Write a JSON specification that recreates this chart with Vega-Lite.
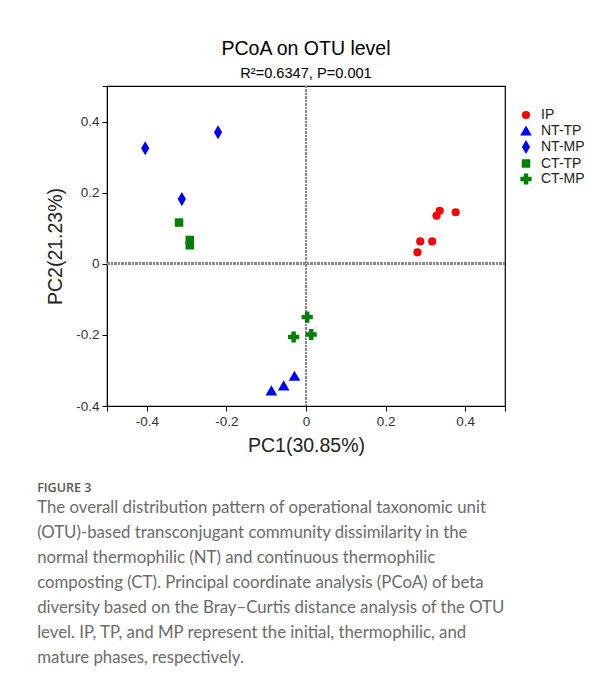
{
  "$schema": "https://vega.github.io/schema/vega-lite/v6.json",
  "padding": {"left": 37, "top": 38, "right": 5, "bottom": 5},
  "background": "white",
  "title": {
    "text": "FIGURE 3",
    "subtitle": [
      "The overall distribution pattern of operational taxonomic unit",
      "(OTU)-based transconjugant community dissimilarity in the",
      "normal thermophilic (NT) and continuous thermophilic",
      "composting (CT). Principal coordinate analysis (PCoA) of beta",
      "diversity based on the Bray–Curtis distance analysis of the OTU",
      "level. IP, TP, and MP represent the initial, thermophilic, and",
      "mature phases, respectively."
    ],
    "orient": "bottom",
    "anchor": "start",
    "frame": "bounds",
    "offset": 26,
    "dx": -8,
    "font": "Open Sans",
    "fontSize": 12.5,
    "fontWeight": 600,
    "color": "#555555",
    "subtitleFont": "Lato",
    "subtitleFontSize": 16.8,
    "subtitleColor": "#6b6b6b",
    "subtitleLineHeight": 25,
    "subtitlePadding": 6
  },
  "vconcat": [
    {
      "width": 398,
      "height": 320,
      "title": {
        "text": "PCoA on OTU level",
        "subtitle": "R²=0.6347, P=0.001",
        "anchor": "middle",
        "font": "Liberation Sans",
        "fontSize": 19.5,
        "fontWeight": "normal",
        "color": "#000000",
        "subtitleFont": "Liberation Sans",
        "subtitleFontSize": 14.6,
        "subtitleColor": "#000000",
        "subtitlePadding": 7,
        "offset": 3
      },
      "data": {
        "values": [
          {"group": "IP", "pc1": 0.336, "pc2": 0.149},
          {"group": "IP", "pc1": 0.328, "pc2": 0.135},
          {"group": "IP", "pc1": 0.376, "pc2": 0.145},
          {"group": "IP", "pc1": 0.287, "pc2": 0.063},
          {"group": "IP", "pc1": 0.317, "pc2": 0.063},
          {"group": "IP", "pc1": 0.280, "pc2": 0.032},
          {"group": "NT-TP", "pc1": -0.087, "pc2": -0.356},
          {"group": "NT-TP", "pc1": -0.056, "pc2": -0.342},
          {"group": "NT-TP", "pc1": -0.029, "pc2": -0.315},
          {"group": "NT-MP", "pc1": -0.404, "pc2": 0.325},
          {"group": "NT-MP", "pc1": -0.221, "pc2": 0.370},
          {"group": "NT-MP", "pc1": -0.312, "pc2": 0.182},
          {"group": "CT-TP", "pc1": -0.319, "pc2": 0.116},
          {"group": "CT-TP", "pc1": -0.292, "pc2": 0.067},
          {"group": "CT-TP", "pc1": -0.292, "pc2": 0.052},
          {"group": "CT-MP", "pc1": 0.003, "pc2": -0.150},
          {"group": "CT-MP", "pc1": 0.013, "pc2": -0.199},
          {"group": "CT-MP", "pc1": -0.031, "pc2": -0.206}
        ]
      },
      "layer": [
        {
          "mark": {"type": "rule", "color": "#888888", "strokeWidth": 2, "strokeDash": [2, 1.5]},
          "encoding": {"x": {"datum": 0, "type": "quantitative"}}
        },
        {
          "mark": {"type": "rule", "color": "#888888", "strokeWidth": 2, "strokeDash": [2, 1.5]},
          "encoding": {"y": {"datum": 0, "type": "quantitative"}}
        },
        {
          "mark": {"type": "point", "filled": true, "opacity": 1},
          "encoding": {
            "x": {
              "field": "pc1",
              "type": "quantitative",
              "scale": {"domain": [-0.5, 0.5], "nice": false, "zero": false},
              "axis": {
                "title": "PC1(30.85%)",
                "values": [-0.5, -0.4, -0.2, 0, 0.2, 0.4, 0.5],
                "labelExpr": "abs(datum.value) > 0.45 ? '' : (datum.value == 0 ? '0' : (datum.value < 0 ? '-' : '') + format(abs(datum.value), '.1f'))",
                "grid": false,
                "domainColor": "#000000",
                "tickColor": "#000000",
                "tickSize": 5,
                "labelPadding": 3,
                "labelFont": "Liberation Sans",
                "labelFontSize": 13.5,
                "labelColor": "#333333",
                "titleFont": "Liberation Sans",
                "titleFontSize": 19.5,
                "titleFontWeight": "normal",
                "titleColor": "#222222",
                "titlePadding": 9
              }
            },
            "y": {
              "field": "pc2",
              "type": "quantitative",
              "scale": {"domain": [-0.4, 0.5], "nice": false, "zero": false},
              "axis": {
                "title": "PC2(21.23%)",
                "values": [-0.4, -0.2, 0, 0.2, 0.4, 0.5],
                "labelExpr": "datum.value > 0.45 ? '' : (datum.value == 0 ? '0' : (datum.value < 0 ? '-' : '') + format(abs(datum.value), '.1f'))",
                "grid": false,
                "domainColor": "#000000",
                "tickColor": "#000000",
                "tickSize": 5,
                "labelPadding": 3,
                "labelFont": "Liberation Sans",
                "labelFontSize": 13.5,
                "labelColor": "#333333",
                "titleFont": "Liberation Sans",
                "titleFontSize": 19.5,
                "titleFontWeight": "normal",
                "titleColor": "#222222",
                "titlePadding": 10
              }
            },
            "color": {
              "field": "group",
              "type": "nominal",
              "scale": {
                "domain": ["IP", "NT-TP", "NT-MP", "CT-TP", "CT-MP"],
                "range": ["#ff0000", "#0000ff", "#0000ff", "#008000", "#008000"]
              },
              "legend": {
                "title": null,
                "orient": "none",
                "legendX": 411,
                "legendY": 22,
                "labelFont": "Liberation Sans",
                "labelFontSize": 14,
                "labelColor": "#222222",
                "rowPadding": 1.5,
                "labelOffset": 7
              }
            },
            "shape": {
              "field": "group",
              "type": "nominal",
              "scale": {
                "type": "ordinal",
                "domain": ["IP", "NT-TP", "NT-MP", "CT-TP", "CT-MP"],
                "range": ["circle", "triangle-up", "M0,-1L0.58,0L0,1L-0.58,0Z", "square", "cross"]
              }
            },
            "size": {
              "field": "group",
              "type": "nominal",
              "scale": {
                "type": "ordinal",
                "domain": ["IP", "NT-TP", "NT-MP", "CT-TP", "CT-MP"],
                "range": [66, 135, 200, 72, 125]
              }
            }
          }
        }
      ]
    }
  ],
  "config": {
    "view": {"stroke": "#000000", "strokeWidth": 1.2},
    "font": "Liberation Sans"
  }
}
